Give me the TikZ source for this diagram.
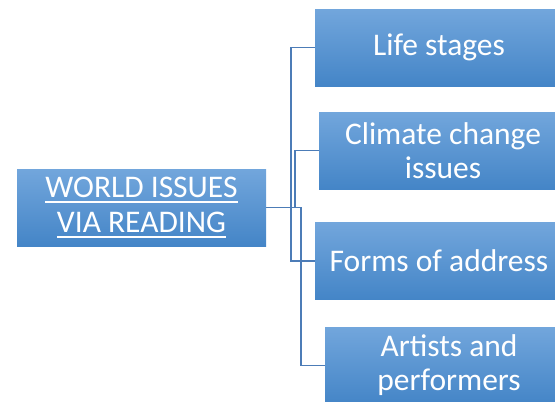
\documentclass[tikz,border=0pt]{standalone}
\usepackage{fontspec}
\setmainfont{Carlito}
\usepackage{tikz}

\definecolor{boxtop}{RGB}{114,166,220}
\definecolor{boxbot}{RGB}{68,133,199}
\definecolor{linkblue}{RGB}{76,124,183}

\newcommand{\ulbar}[1]{\setbox0=\hbox{#1}\rlap{\rule[-5.5pt]{\wd0}{1.8pt}}\box0}

\begin{document}
\begin{tikzpicture}[x=1pt,y=-1pt,
        topic/.style={top color=boxtop,bottom color=boxbot,text=white,
            minimum width=248pt,minimum height=77pt,inner sep=0pt,align=center,
            font=\fontsize{31.5}{34}\selectfont},
        link/.style={draw=linkblue,line width=1.7pt}]
            \clip (0,0) rectangle (555,402);
            \node[topic,minimum width=249pt,font=\fontsize{31.5}{35}\selectfont] at (141.5,207.5) (w) {\ulbar{WORLD ISSUES}\\\ulbar{VIA READING}};
            \node[topic] at (439,47.5) (l) {Life stages};
            \node[topic] at (443,150.5) (c) {Climate change\\issues};
            \node[topic] at (439,261) (f) {Forms of address};
            \node[topic] at (449,365.5) (a) {Artists and\\performers};
            \draw[link] (w.east) -- ++(25,0) |- (l.west);
            \draw[link] (w.east) -- ++(29,0) |- (c.west);
            \draw[link] (w.east) -- ++(25,0) |- (f.west);
            \draw[link] (w.east) -- ++(35,0) |- (a.west);
        \end{tikzpicture}
\end{document}
